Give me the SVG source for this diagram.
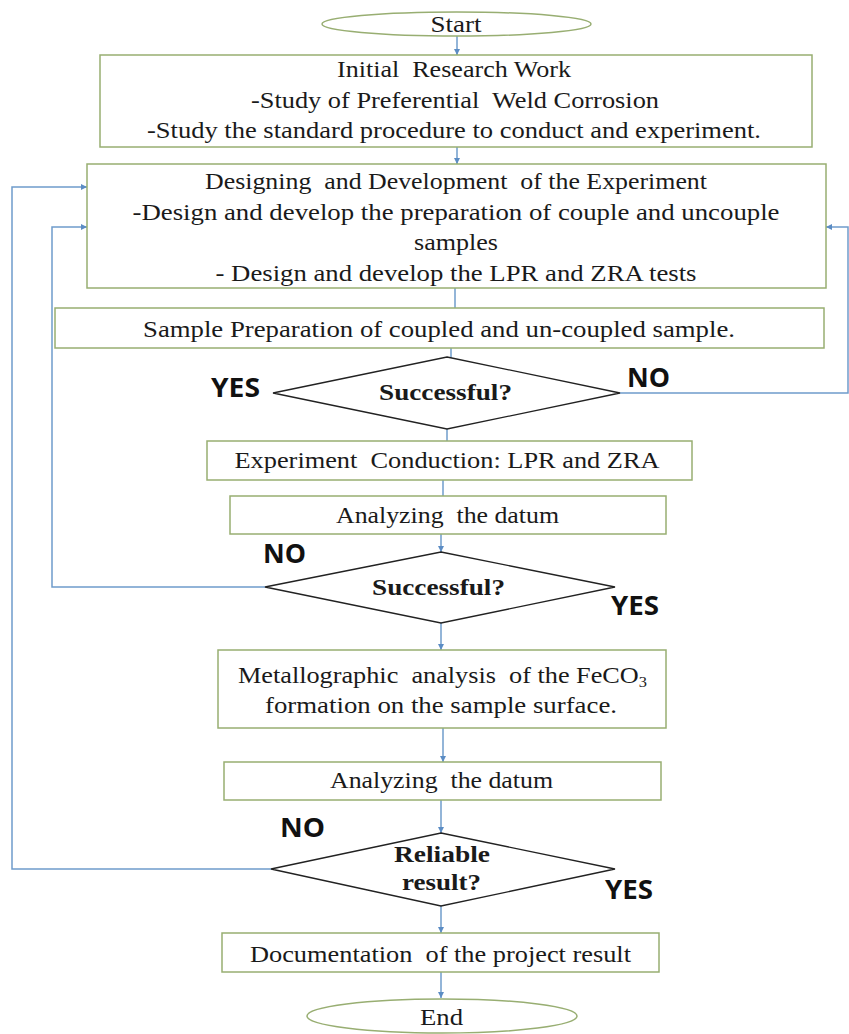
<svg xmlns="http://www.w3.org/2000/svg" width="849" height="1034" viewBox="0 0 849 1034">
<style>
.box{fill:#fff;stroke:#98AE72;stroke-width:1.5}
.ell{fill:#fff;stroke:#98AE72;stroke-width:1.5}
.dia{fill:#fff;stroke:#222;stroke-width:1.3}
.t{font-family:"Liberation Serif","Times New Roman",serif;font-size:24px;fill:#1a1a1a;text-anchor:middle;white-space:pre}
.tb{font-family:"Liberation Serif","Times New Roman",serif;font-size:23px;font-weight:bold;fill:#1a1a1a;text-anchor:middle}
.yn{font-family:"Open Sans","Liberation Sans",sans-serif;font-size:26px;font-weight:bold;fill:#111}
.c{fill:none;stroke:#6F9CCB;stroke-width:1.5}
</style>
<defs>
<marker id="ah" viewBox="0 0 10 10" refX="10" refY="5" markerWidth="6" markerHeight="6" orient="auto" markerUnits="userSpaceOnUse">
<path d="M0,0 L10,5 L0,10 z" fill="#5B8CC4"/>
</marker>
</defs>
<rect width="849" height="1034" fill="#fff"/>

<g id="connectors">
<line class="c" x1="457" y1="36" x2="457" y2="55" marker-end="url(#ah)"/>
<line class="c" x1="457" y1="147" x2="457" y2="164" marker-end="url(#ah)"/>
<line class="c" x1="455" y1="288" x2="455" y2="308"/>
<line class="c" x1="451" y1="348" x2="451" y2="358"/>
<line class="c" x1="447" y1="429" x2="447" y2="441"/>
<line class="c" x1="443" y1="480" x2="443" y2="496"/>
<line class="c" x1="441" y1="534" x2="441" y2="552" marker-end="url(#ah)"/>
<line class="c" x1="441" y1="623" x2="441" y2="650" marker-end="url(#ah)"/>
<line class="c" x1="443" y1="728" x2="443" y2="762" marker-end="url(#ah)"/>
<line class="c" x1="441" y1="800" x2="441" y2="833" marker-end="url(#ah)"/>
<line class="c" x1="441" y1="906" x2="441" y2="933" marker-end="url(#ah)"/>
<line class="c" x1="441" y1="972" x2="441" y2="998" marker-end="url(#ah)"/>
<polyline class="c" points="620,393 848,393 848,227 826,227" marker-end="url(#ah)"/>
<polyline class="c" points="265,587 52,587 52,227 87,227" marker-end="url(#ah)"/>
<polyline class="c" points="271,869 12,869 12,187 87,187" marker-end="url(#ah)"/>
</g>

<g id="start">
<ellipse class="ell" cx="456.5" cy="24" rx="134.5" ry="12"/>
<text class="t" x="456" y="32" textLength="51" lengthAdjust="spacingAndGlyphs">Start</text>
</g>

<g id="initial-research">
<rect class="box" x="100" y="55" width="712" height="92"/>
<text class="t" x="454" y="77" textLength="234" lengthAdjust="spacingAndGlyphs">Initial  Research Work</text>
<text class="t" x="455" y="108" textLength="408" lengthAdjust="spacingAndGlyphs">-Study of Preferential  Weld Corrosion</text>
<text class="t" x="454" y="138" textLength="614" lengthAdjust="spacingAndGlyphs">-Study the standard procedure to conduct and experiment.</text>
</g>

<g id="design-development">
<rect class="box" x="87" y="164" width="739" height="124"/>
<text class="t" x="456" y="189" textLength="502" lengthAdjust="spacingAndGlyphs">Designing  and Development  of the Experiment</text>
<text class="t" x="456" y="220" textLength="647" lengthAdjust="spacingAndGlyphs">-Design and develop the preparation of couple and uncouple</text>
<text class="t" x="456" y="250" textLength="84" lengthAdjust="spacingAndGlyphs">samples</text>
<text class="t" x="456" y="281" textLength="481" lengthAdjust="spacingAndGlyphs">- Design and develop the LPR and ZRA tests</text>
</g>

<g id="sample-preparation">
<rect class="box" x="55" y="308" width="769" height="40"/>
<text class="t" x="439" y="337" textLength="592" lengthAdjust="spacingAndGlyphs">Sample Preparation of coupled and un-coupled sample.</text>
</g>

<g id="decision-1">
<polygon class="dia" points="447,357 620,393 447,429 273,393"/>
<text class="tb" x="445.5" y="400" textLength="133" lengthAdjust="spacingAndGlyphs">Successful?</text>
<text class="yn" x="211" y="397" textLength="49" lengthAdjust="spacingAndGlyphs">YES</text>
<text class="yn" x="627" y="387" textLength="43" lengthAdjust="spacingAndGlyphs">NO</text>
</g>

<g id="experiment-conduction">
<rect class="box" x="207" y="441" width="485" height="39"/>
<text class="t" x="447" y="468" textLength="425" lengthAdjust="spacingAndGlyphs">Experiment  Conduction: LPR and ZRA</text>
</g>

<g id="analyzing-1">
<rect class="box" x="230" y="496" width="436" height="38"/>
<text class="t" x="447.5" y="523" textLength="223" lengthAdjust="spacingAndGlyphs">Analyzing  the datum</text>
</g>

<g id="decision-2">
<polygon class="dia" points="441,552 615,587 441,623 265,587"/>
<text class="tb" x="438.5" y="595" textLength="133" lengthAdjust="spacingAndGlyphs">Successful?</text>
<text class="yn" x="263" y="563" textLength="43" lengthAdjust="spacingAndGlyphs">NO</text>
<text class="yn" x="611" y="615" textLength="48" lengthAdjust="spacingAndGlyphs">YES</text>
</g>

<g id="metallographic">
<rect class="box" x="218" y="650" width="448" height="78"/>
<text class="t" x="442.5" y="683" textLength="409" lengthAdjust="spacingAndGlyphs">Metallographic  analysis  of the FeCO<tspan font-size="15" dy="4">3</tspan></text>
<text class="t" x="441" y="713" textLength="352" lengthAdjust="spacingAndGlyphs">formation on the sample surface.</text>
</g>

<g id="analyzing-2">
<rect class="box" x="224" y="762" width="437" height="38"/>
<text class="t" x="441.5" y="788" textLength="223" lengthAdjust="spacingAndGlyphs">Analyzing  the datum</text>
</g>

<g id="decision-3">
<polygon class="dia" points="441,833 615,869 441,906 271,869"/>
<text class="tb" x="442" y="862" textLength="96" lengthAdjust="spacingAndGlyphs">Reliable</text>
<text class="tb" x="441.5" y="890" textLength="79" lengthAdjust="spacingAndGlyphs">result?</text>
<text class="yn" x="280" y="837" textLength="45" lengthAdjust="spacingAndGlyphs">NO</text>
<text class="yn" x="605" y="899" textLength="48" lengthAdjust="spacingAndGlyphs">YES</text>
</g>

<g id="documentation">
<rect class="box" x="222" y="933" width="437" height="39"/>
<text class="t" x="440.5" y="962" textLength="381" lengthAdjust="spacingAndGlyphs">Documentation  of the project result</text>
</g>

<g id="end">
<ellipse class="ell" cx="442" cy="1016" rx="135" ry="17"/>
<text class="t" x="441.5" y="1025" textLength="43" lengthAdjust="spacingAndGlyphs">End</text>
</g>
</svg>
